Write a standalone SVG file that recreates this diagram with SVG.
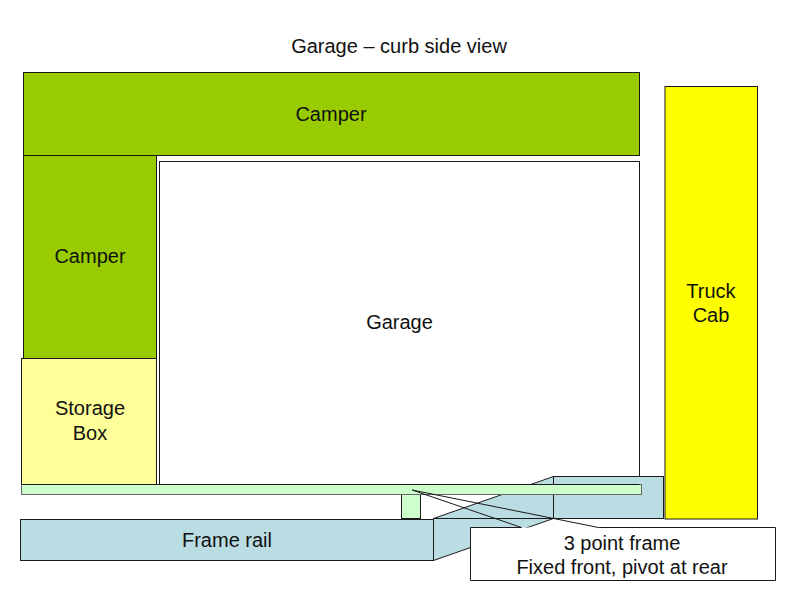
<svg xmlns="http://www.w3.org/2000/svg" width="800" height="600" viewBox="0 0 800 600">
<style>
text{font-family:"Liberation Sans",Arial,sans-serif;font-size:20px;fill:#111;text-anchor:middle}
.s{stroke:#1a1a1a;stroke-width:1}
.blue{fill:#b9dde3}
</style>
<rect width="800" height="600" fill="#fff"/>
<text id="title" x="399" y="53">Garage – curb side view</text>
<g id="camper-top"><rect class="s" x="23.500" y="72.500" width="616" height="83" fill="#99cc00"/><text x="331" y="121">Camper</text></g>
<g id="camper-left"><rect class="s" x="23.500" y="155.500" width="133" height="203" fill="#99cc00"/><text x="90" y="263">Camper</text></g>
<g id="storage-box"><rect class="s" x="21.500" y="358.500" width="135" height="126" fill="#ffff99"/><text x="90" y="415">Storage</text><text x="90" y="440">Box</text></g>
<g id="garage"><rect class="s" x="159.500" y="161.500" width="480" height="323" fill="#fff"/><text x="399.500" y="329">Garage</text></g>
<g id="truck-cab"><rect class="s" x="665" y="86.500" width="92.500" height="432.500" fill="#ffff00"/><text x="711" y="298">Truck</text><text x="711" y="322">Cab</text></g>
<g id="frame-link"><polygon class="s blue" points="433.500,518.500 553.500,476.500 553.500,518.500 433.500,560.500"/><path class="s" d="M433.500 518.500H553.500"/></g>
<g id="frame-front"><rect class="s blue" x="553.500" y="476.500" width="110" height="42"/></g>
<g id="frame-rail"><rect class="s blue" x="20.500" y="519.500" width="413" height="41"/><text x="227" y="547">Frame rail</text></g>
<g id="post"><rect class="s" x="401.500" y="494.500" width="19" height="24" fill="#ccffcc"/></g>
<g id="bar"><rect x="21.500" y="484.500" width="620" height="10" fill="#ccffcc" stroke="#666" stroke-width="1"/><path class="s" d="M21.500 484.500H639.500"/></g>
<g id="callout"><rect x="470.500" y="527.500" width="305" height="53" fill="#fff" stroke="none"/>
<path class="s" fill="none" d="M521.500 527.500H470.500V580.500H775.500V527.500H598.500L412 490L521.500 527.500"/>
<text x="622" y="550">3 point frame</text><text x="622" y="574">Fixed front, pivot at rear</text></g>
</svg>
